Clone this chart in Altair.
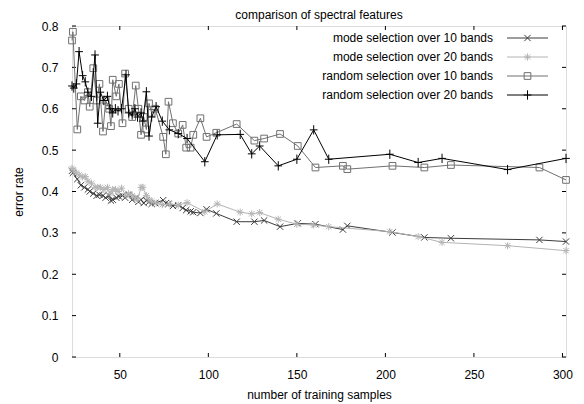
import altair as alt
import pandas as pd

# ---------------- data ----------------
chart_title = "comparison of spectral features"
series_names = [
    "mode selection over 10 bands",
    "mode selection over 20 bands",
    "random selection over 10 bands",
    "random selection over 20 bands",
]

x10 = [23, 23.5, 26, 28, 30, 32, 33, 35, 37, 38.5, 40.5, 42, 44, 45, 46, 48, 49.5,
       51.5, 53, 55, 57, 59, 60.5, 62, 63.5, 65, 66.5, 68, 70, 74.5, 76, 77.5, 80,
       83, 85.5, 87.5, 90, 91.5, 95.5, 99, 104.5, 116, 126, 131.5, 140.5, 150.5,
       160.5, 176, 178.5, 204, 222, 237, 287, 302]
mode10 = [0.45, 0.445, 0.43, 0.415, 0.41, 0.405, 0.40, 0.395, 0.39, 0.392, 0.39,
          0.385, 0.39, 0.378, 0.38, 0.385, 0.388, 0.39, 0.385, 0.392, 0.38, 0.385,
          0.375, 0.38, 0.372, 0.378, 0.375, 0.37, 0.372, 0.379, 0.372, 0.37, 0.365,
          0.367, 0.36, 0.355, 0.352, 0.35, 0.348, 0.357, 0.347, 0.327, 0.327, 0.33,
          0.315, 0.323, 0.321, 0.308, 0.317, 0.301, 0.289, 0.287, 0.283, 0.279]
random10 = [0.765, 0.786, 0.55, 0.63, 0.62, 0.64, 0.605, 0.698, 0.62, 0.66, 0.545,
            0.62, 0.60, 0.558, 0.67, 0.63, 0.66, 0.565, 0.685, 0.60, 0.58, 0.656,
            0.60, 0.537, 0.58, 0.55, 0.613, 0.59, 0.60, 0.532, 0.49, 0.617, 0.565,
            0.54, 0.561, 0.506, 0.506, 0.537, 0.577, 0.532, 0.542, 0.563, 0.523,
            0.528, 0.539, 0.51, 0.458, 0.462, 0.454, 0.462, 0.458, 0.464, 0.458, 0.428]

x20 = [23, 24, 25.5, 27, 29, 30.5, 32, 34, 36, 37.5, 39, 41, 43, 44.5, 46, 47.5, 49,
       51, 53.5, 55, 57, 58.5, 60, 62, 63, 65, 66.5, 68, 70.5, 74, 78, 83, 88, 98,
       105, 118, 124.5, 129, 139.5, 150, 159.5, 168, 202.5, 218.5, 232, 269, 302]
mode20 = [0.456, 0.45, 0.445, 0.44, 0.435, 0.436, 0.425, 0.42, 0.41, 0.41, 0.41,
          0.405, 0.41, 0.395, 0.405, 0.405, 0.40, 0.408, 0.39, 0.395, 0.39, 0.385,
          0.379, 0.41, 0.41, 0.39, 0.38, 0.375, 0.372, 0.368, 0.37, 0.367, 0.373,
          0.351, 0.37, 0.35, 0.346, 0.349, 0.333, 0.321, 0.319, 0.315, 0.303, 0.291,
          0.277, 0.269, 0.257]
random20 = [0.655, 0.65, 0.66, 0.738, 0.68, 0.665, 0.64, 0.63, 0.73, 0.565, 0.64,
            0.62, 0.63, 0.60, 0.59, 0.60, 0.595, 0.60, 0.682, 0.59, 0.585, 0.60,
            0.58, 0.59, 0.57, 0.641, 0.534, 0.58, 0.605, 0.57, 0.549, 0.54, 0.528,
            0.472, 0.537, 0.538, 0.491, 0.51, 0.462, 0.478, 0.549, 0.478, 0.49,
            0.47, 0.48, 0.453, 0.48]

x_ticks = [50, 100, 150, 200, 250, 300]
y_ticks = [0, 0.1, 0.2, 0.3, 0.4, 0.5, 0.6, 0.7, 0.8]

# ---------------- style ----------------
W, H = 494, 331
FONT = "Liberation Sans"
colors = ["#3c3c3c", "#b4b4b4", "#707070", "#000000"]
X_PATH = "M-1,-1L1,1M-1,1L1,-1"
STAR_PATH = "M-1,0L1,0M0,-1L0,1M-0.75,-0.75L0.75,0.75M-0.75,0.75L0.75,-0.75"
PLUS_PATH = "M-1,0L1,0M0,-1.2L0,1.2"
shapes = [X_PATH, STAR_PATH, "square", PLUS_PATH]
sizes = [40, 50, 45, 60]

xs = alt.Scale(domain=[23, 302], nice=False, zero=False)
ys = alt.Scale(domain=[0, 0.8], nice=False, zero=False)

X_AX = alt.Axis(values=x_ticks, title="number of training samples",
                ticks=False, domain=False, grid=False,
                labelPadding=12, titlePadding=9,
                labelFont=FONT, labelFontSize=12, labelColor="#000",
                titleFont=FONT, titleFontSize=12, titleFontWeight="normal",
                titleColor="#000")
Y_AX = alt.Axis(values=y_ticks, title="error rate", format="~g",
                ticks=False, domain=False, grid=False,
                labelPadding=14, titlePadding=16,
                labelFont=FONT, labelFontSize=12, labelColor="#000",
                titleFont=FONT, titleFontSize=12, titleFontWeight="normal",
                titleColor="#000")


def X(field):
    return alt.X(field, scale=xs, axis=X_AX, title="number of training samples")


def Y(field):
    return alt.Y(field, scale=ys, axis=Y_AX, title="error rate")


# inward tick marks on all four sides
xt = pd.DataFrame({"v": x_ticks})
yt = pd.DataFrame({"v": y_ticks})
tick_layers = [
    alt.Chart(xt).mark_rule(color="#000", strokeWidth=1).encode(
        x=X("v:Q"), y=alt.value(H), y2=alt.value(H - 4)),
    alt.Chart(xt).mark_rule(color="#000", strokeWidth=1).encode(
        x=X("v:Q"), y=alt.value(0), y2=alt.value(4)),
    alt.Chart(yt).mark_rule(color="#000", strokeWidth=1).encode(
        y=Y("v:Q"), x=alt.value(0), x2=alt.value(4)),
    alt.Chart(yt).mark_rule(color="#000", strokeWidth=1).encode(
        y=Y("v:Q"), x=alt.value(W), x2=alt.value(W - 4)),
]

series_data = [(x10, mode10), (x20, mode20), (x10, random10), (x20, random20)]
series_layers = []
for i, (xv, yv) in enumerate(series_data):
    df = pd.DataFrame({"x": xv, "y": yv})
    base = alt.Chart(df).encode(x=X("x:Q"), y=Y("y:Q"))
    series_layers.append(base.mark_line(color=colors[i], strokeWidth=1, clip=False))
    series_layers.append(base.mark_point(shape=shapes[i], filled=False, color=colors[i],
                                         size=sizes[i], strokeWidth=1, opacity=1, clip=False))

# manual gnuplot-style legend (text, then sample)
legend_layers = []
row_y = [12, 31, 50, 69]
for i, name in enumerate(series_names):
    ldf = pd.DataFrame({"label": [name]})
    lb = alt.Chart(ldf)
    legend_layers.append(lb.mark_text(align="right", baseline="middle", font=FONT,
                                      fontSize=12, color="#000").encode(
        text="label:N", x=alt.value(421), y=alt.value(row_y[i])))
    legend_layers.append(lb.mark_rule(color=colors[i], strokeWidth=1).encode(
        x=alt.value(435), x2=alt.value(476), y=alt.value(row_y[i])))
    legend_layers.append(lb.mark_point(shape=shapes[i], filled=False, color=colors[i],
                                       size=sizes[i], strokeWidth=1, opacity=1).encode(
        x=alt.value(455.5), y=alt.value(row_y[i])))

# chart title as a text mark (keeps it inside the drawing)
title_layer = alt.Chart(pd.DataFrame({"t": [chart_title]})).mark_text(
    align="center", baseline="alphabetic", font=FONT, fontSize=12, color="#000"
).encode(text="t:N", x=alt.value(W / 2), y=alt.value(-7))

chart = alt.layer(*tick_layers, *series_layers, *legend_layers, title_layer).properties(
    width=W, height=H,
    autosize=alt.AutoSizeParams(type="none"),
    padding={"left": 64, "top": 18, "right": 10, "bottom": 50},
).configure_view(stroke="#000", strokeWidth=1).configure(background="white")

chart.save("out.html", embed_options={"renderer": "svg", "actions": False})
